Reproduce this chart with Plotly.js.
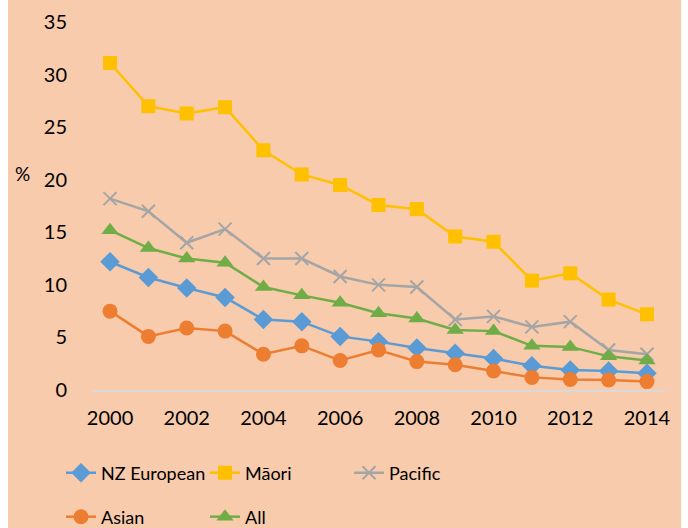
<!DOCTYPE html>
<html>
<head>
<meta charset="utf-8">
<script src="https://cdn.plot.ly/plotly-3.0.1.min.js"></script>
<style>html,body{margin:0;padding:0;background:#fff;}#chart{width:688px;height:528px;}</style>
</head>
<body>
<div id="chart"></div>
<script>
const years = [2000,2001,2002,2003,2004,2005,2006,2007,2008,2009,2010,2011,2012,2013,2014];
const nzEuropean = [12.2,10.7,9.7,8.8,6.7,6.5,5.1,4.6,4.0,3.5,3.0,2.3,1.9,1.8,1.6];
const maori = [31.1,27.0,26.3,26.9,22.8,20.5,19.5,17.6,17.2,14.6,14.1,10.4,11.1,8.6,7.2];
const pacific = [18.2,17.0,14.0,15.3,12.5,12.5,10.8,10.0,9.8,6.7,7.0,6.0,6.5,3.8,3.4];
const asian = [7.5,5.1,5.9,5.6,3.4,4.2,2.8,3.8,2.7,2.4,1.8,1.2,1.0,0.95,0.8];
const all = [15.2,13.5,12.5,12.1,9.8,9.0,8.3,7.3,6.8,5.7,5.6,4.2,4.1,3.2,2.8];
const xTicks = [2000,2002,2004,2006,2008,2010,2012,2014];
const yTicks = [0,5,10,15,20,25,30,35];

const FONT = 'Lato, "Liberation Sans", sans-serif';
function tr(name, y, color, symbol, size, legend, extra) {
  const m = {symbol: symbol, size: size, color: color};
  if (extra) Object.assign(m, extra);
  return {x: years, y: y, name: name, type: 'scatter', mode: 'lines+markers',
    line: {color: color, width: 2.5}, marker: m, legend: legend};
}
const data = [
  tr('NZ European', nzEuropean, '#5B9BD5', 'diamond', 15, 'legend'),
  tr('Māori', maori, '#FFC000', 'square', 14, 'legend'),
  tr('Pacific', pacific, '#A5A5A5', 'x-thin', 13, 'legend', {line: {color: '#A5A5A5', width: 2}}),
  tr('Asian', asian, '#ED7D31', 'circle', 15, 'legend2'),
  tr('All', all, '#70AD47', 'triangle-up', 15, 'legend2')
];
const L = 92, R = 23, T = 22, B = 138;
const W = 688 - L - R, H = 528 - T - B;
const px = v => (v - L) / W;
const py = v => (528 - B - v) / H;
const legendCommon = {orientation: 'h', xanchor: 'left', yanchor: 'middle',
  entrywidth: 99, entrywidthmode: 'pixels', bgcolor: 'rgba(0,0,0,0)', font: {size: 18}};
const layout = {
  width: 688, height: 528,
  margin: {l: L, r: R, t: T, b: B, autoexpand: false},
  paper_bgcolor: '#ffffff',
  plot_bgcolor: 'rgba(0,0,0,0)',
  font: {family: FONT, size: 20, color: '#000000'},
  xaxis: {range: [1999.53, 2014.47], tickvals: xTicks, ticktext: xTicks.map(String),
    showgrid: false, zeroline: false, showline: true, linecolor: '#D9D9D9', linewidth: 2,
    ticks: 'outside', ticklen: 9, tickcolor: 'rgba(0,0,0,0)', fixedrange: true},
  yaxis: {range: [0, 35], tickvals: yTicks, ticktext: yTicks.map(String),
    showgrid: false, zeroline: false, showline: false,
    ticks: 'outside', ticklen: 20, tickcolor: 'rgba(0,0,0,0)', fixedrange: true},
  shapes: [{type: 'rect', xref: 'paper', yref: 'paper', layer: 'below',
    x0: px(8), x1: px(681), y0: py(530), y1: py(-2),
    fillcolor: '#F7CBAC', line: {width: 0}}],
  annotations: [{text: '%', xref: 'paper', yref: 'paper', x: px(22), y: py(173),
    showarrow: false, xanchor: 'center', yanchor: 'middle', font: {size: 19}}],
  legend: Object.assign({x: px(61), y: py(473)}, legendCommon),
  legend2: Object.assign({x: px(61), y: py(517)}, legendCommon),
  showlegend: true
};
Plotly.newPlot('chart', data, layout, {displayModeBar: false, staticPlot: true});
</script>
</body>
</html>
